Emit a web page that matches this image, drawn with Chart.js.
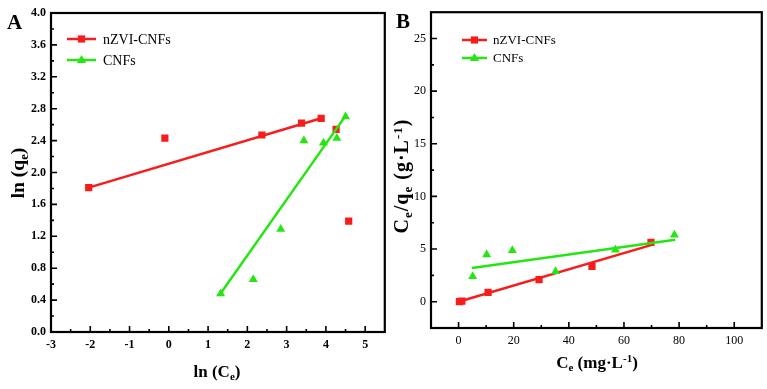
<!DOCTYPE html>
<html>
<head>
<meta charset="utf-8">
<script src="https://cdn.jsdelivr.net/npm/chart.js@4"></script>
<style>
  body { margin: 0; background: #fff; }
  #wrap { position: relative; width: 767px; height: 389px; overflow: hidden; }
  canvas { position: absolute; top: 0; }
  .lbl { position: absolute; font: bold 17px "Liberation Serif", "Times New Roman", serif; color: #000;
         white-space: nowrap; line-height: 1; transform: translate(-50%, -50%); }
  .rot { transform: translate(-50%, -50%) rotate(-90deg); }
  .lbl sub, .lbl sup { font-size: 65%; line-height: 0; position: relative; vertical-align: baseline; }
  .lbl sub { top: 0.3em; }
  .lbl sup { top: -0.5em; }
  .letter { font-size: 21px; transform: translate(0, -50%); }
</style>
</head>
<body>
<div id="wrap">
  <canvas id="chartA" width="390" height="389" style="left:0"></canvas>
  <canvas id="chartB" width="377" height="389" style="left:390px"></canvas>
  <div class="lbl letter" style="left:7px; top:22px">A</div>
  <div class="lbl rot" style="left:18px; top:173px; font-size:19.5px">ln (q<sub>e</sub>)</div>
  <div class="lbl" style="left:217px; top:371px">ln (C<sub>e</sub>)</div>
  <div class="lbl letter" style="left:396px; top:21px">B</div>
  <div class="lbl rot" style="left:401px; top:176px; font-size:20px; letter-spacing:1px">C<sub>e</sub>/q<sub>e</sub> (g·L<sup>-1</sup>)</div>
  <div class="lbl" style="left:597px; top:362px">C<sub>e</sub> (mg·L<sup>-1</sup>)</div>
</div>
<script>
// Panel A : Freundlich (ln qe vs ln Ce)
const seriesNames = ["nZVI-CNFs", "CNFs"];

const redXA = [-2.04, -0.10, 2.37, 3.38, 3.88, 4.26, 4.58];
const redYA = [1.81, 2.43, 2.47, 2.62, 2.68, 2.54, 1.39];
const redFitXA = [-2.04, 3.88];
const redFitYA = [1.81, 2.68];

const greenXA = [1.32, 2.15, 2.85, 3.44, 3.94, 4.28, 4.50];
const greenYA = [0.48, 0.66, 1.29, 2.40, 2.37, 2.43, 2.70];
const greenFitXA = [1.30, 4.50];
const greenFitYA = [0.47, 2.71];

const xTicksA = [-3, -2, -1, 0, 1, 2, 3, 4, 5];
const xLabelsA = ["-3", "-2", "-1", "0", "1", "2", "3", "4", "5"];
const yTicksA = [0.0, 0.4, 0.8, 1.2, 1.6, 2.0, 2.4, 2.8, 3.2, 3.6, 4.0];
const yLabelsA = ["0.0", "0.4", "0.8", "1.2", "1.6", "2.0", "2.4", "2.8", "3.2", "3.6", "4.0"];

// Panel B : Langmuir (Ce/qe vs Ce)
const redXB = [0.3, 1.2, 10.7, 29.2, 48.4, 69.8];
const redYB = [0.00, 0.05, 0.88, 2.09, 3.35, 5.63];
const redFitXB = [0, 70.1];
const redFitYB = [0, 5.40];

const greenXB = [5.1, 10.2, 19.5, 35.2, 56.9, 78.3];
const greenYB = [2.40, 4.46, 4.87, 2.88, 4.93, 6.35];
const greenFitXB = [4.8, 78.6];
const greenFitYB = [3.19, 5.88];

const xTicksB = [0, 20, 40, 60, 80, 100];
const xLabelsB = ["0", "20", "40", "60", "80", "100"];
const yTicksB = [0, 5, 10, 15, 20, 25];
const yLabelsB = ["0", "5", "10", "15", "20", "25"];

const RED = "#f81c1c";
const GREEN = "#26e612";
const serif = "'Liberation Serif', 'Times New Roman', serif";

function pts(xs, ys) {
  return xs.map((x, i) => ({ x: x, y: ys[i] }));
}

function drawMarker(ctx, style, x, y, color) {
  ctx.save();
  ctx.fillStyle = color;
  ctx.beginPath();
  if (style === "rect") {
    ctx.rect(x - 3.6, y - 3.6, 7.2, 7.2);
  } else {
    ctx.moveTo(x, y - 5);
    ctx.lineTo(x + 4.6, y + 3);
    ctx.lineTo(x - 4.6, y + 3);
    ctx.closePath();
  }
  ctx.fill();
  ctx.restore();
}

// frame, inward ticks (major + minor) and legend inside the plot
const framePlugin = {
  id: "frame",
  afterDraw(chart, args, opts) {
    const ctx = chart.ctx;
    const a = chart.chartArea;
    ctx.save();
    ctx.strokeStyle = "#000";
    ctx.lineWidth = 1.6;
    const xs = chart.scales.x, ys = chart.scales.y;
    const xt = opts.xTicks, yt = opts.yTicks;
    const xMinor = [], yMinor = [];
    for (let i = 0; i < xt.length - 1; i++) xMinor.push((xt[i] + xt[i + 1]) / 2);
    for (let i = 0; i < yt.length - 1; i++) yMinor.push((yt[i] + yt[i + 1]) / 2);
    const xs0 = xt[0] - (xt[1] - xt[0]) / 2, xs1 = xt[xt.length - 1] + (xt[1] - xt[0]) / 2;
    const ys0 = yt[0] - (yt[1] - yt[0]) / 2, ys1 = yt[yt.length - 1] + (yt[1] - yt[0]) / 2;
    [xs0, xs1].forEach(v => { if (v > xs.min && v < xs.max) xMinor.push(v); });
    [ys0, ys1].forEach(v => { if (v > ys.min && v < ys.max) yMinor.push(v); });
    ctx.beginPath();
    xt.forEach(v => { const p = xs.getPixelForValue(v); ctx.moveTo(p, a.bottom); ctx.lineTo(p, a.bottom - 6); });
    xMinor.forEach(v => { const p = xs.getPixelForValue(v); ctx.moveTo(p, a.bottom); ctx.lineTo(p, a.bottom - 3); });
    yt.forEach(v => { const p = ys.getPixelForValue(v); ctx.moveTo(a.left, p); ctx.lineTo(a.left + 6, p); });
    yMinor.forEach(v => { const p = ys.getPixelForValue(v); ctx.moveTo(a.left, p); ctx.lineTo(a.left + 3, p); });
    ctx.stroke();
    ctx.lineWidth = 2.2;
    ctx.strokeRect(a.left, a.top, a.right - a.left, a.bottom - a.top);

    // legend
    const lg = opts.legend;
    ctx.font = lg.fontSize + "px " + serif;
    ctx.textBaseline = "middle";
    ctx.fillStyle = "#000";
    lg.items.forEach((it, i) => {
      const y = lg.rows[i];
      ctx.strokeStyle = it.color;
      ctx.lineWidth = 2.5;
      ctx.beginPath();
      ctx.moveTo(lg.x0, y);
      ctx.lineTo(lg.x1, y);
      ctx.stroke();
      drawMarker(ctx, it.style, (lg.x0 + lg.x1) / 2, y, it.color);
      ctx.fillStyle = "#000";
      ctx.fillText(it.label, lg.tx, y + 1);
    });
    ctx.restore();
  }
};

function makeChart(id, cfg) {
  const tickFont = { family: serif, size: cfg.tickSize, weight: cfg.tickWeight };
  return new Chart(document.getElementById(id), {
    type: "scatter",
    data: {
      datasets: [
        { label: seriesNames[1] + " fit", type: "line", data: pts(cfg.gFitX, cfg.gFitY), borderColor: GREEN,
          borderWidth: 2.5, pointRadius: 0, fill: false, order: 1 },
        { label: seriesNames[1], data: pts(cfg.gX, cfg.gY), pointStyle: "triangle", pointRadius: 5.2,
          backgroundColor: GREEN, borderColor: GREEN, borderWidth: 0, order: 2 },
        { label: seriesNames[0] + " fit", type: "line", data: pts(cfg.rFitX, cfg.rFitY), borderColor: RED,
          borderWidth: 2.5, pointRadius: 0, fill: false, order: 3 },
        { label: seriesNames[0], data: pts(cfg.rX, cfg.rY), pointStyle: "rect", pointRadius: 5.1,
          backgroundColor: RED, borderColor: RED, borderWidth: 0, order: 4 }
      ]
    },
    options: {
      responsive: false,
      animation: false,
      devicePixelRatio: 1,
      layout: { padding: cfg.padding },
      plugins: {
        legend: { display: false },
        tooltip: { enabled: false },
        frame: { xTicks: cfg.xTicks, yTicks: cfg.yTicks, legend: cfg.legend }
      },
      scales: {
        x: {
          type: "linear", min: cfg.xMin, max: cfg.xMax,
          afterBuildTicks: s => { s.ticks = cfg.xTicks.map(v => ({ value: v })); },
          afterFit: s => { s.height = cfg.xHeight; },
          ticks: { callback: (v, i) => cfg.xLabels[i], font: tickFont, color: "#000", padding: 6,
                   maxRotation: 0, autoSkip: false },
          grid: { display: false, drawTicks: false },
          border: { display: false }
        },
        y: {
          type: "linear", min: cfg.yMin, max: cfg.yMax,
          afterBuildTicks: s => { s.ticks = cfg.yTicks.map(v => ({ value: v })); },
          afterFit: s => { s.width = cfg.yWidth; },
          ticks: { callback: (v, i) => cfg.yLabels[i], font: tickFont, color: "#000", padding: 5, autoSkip: false },
          grid: { display: false, drawTicks: false },
          border: { display: false }
        }
      }
    },
    plugins: [framePlugin]
  });
}

makeChart("chartA", {
  rX: redXA, rY: redYA, rFitX: redFitXA, rFitY: redFitYA,
  gX: greenXA, gY: greenYA, gFitX: greenFitXA, gFitY: greenFitYA,
  xMin: -3, xMax: 5.5, yMin: 0, yMax: 4.0,
  xTicks: xTicksA, xLabels: xLabelsA, yTicks: yTicksA, yLabels: yLabelsA,
  tickSize: 12, tickWeight: "bold",
  padding: { left: 0, right: 4, top: 13, bottom: 0 }, xHeight: 57, yWidth: 51,
  legend: { x0: 67, x1: 96, tx: 103, rows: [39, 60], fontSize: 14,
            items: [{ label: seriesNames[0], color: RED, style: "rect" },
                    { label: seriesNames[1], color: GREEN, style: "triangle" }] }
});

makeChart("chartB", {
  rX: redXB, rY: redYB, rFitX: redFitXB, rFitY: redFitYB,
  gX: greenXB, gY: greenYB, gFitX: greenFitXB, gFitY: greenFitYB,
  xMin: -10, xMax: 110, yMin: -2.5, yMax: 27.5,
  xTicks: xTicksB, xLabels: xLabelsB, yTicks: yTicksB, yLabels: yLabelsB,
  tickSize: 12, tickWeight: "normal",
  padding: { left: 0, right: 5, top: 12, bottom: 0 }, xHeight: 61, yWidth: 41,
  legend: { x0: 72, x1: 97, tx: 103, rows: [40, 58], fontSize: 13,
            items: [{ label: seriesNames[0], color: RED, style: "rect" },
                    { label: seriesNames[1], color: GREEN, style: "triangle" }] }
});
</script>
</body>
</html>
